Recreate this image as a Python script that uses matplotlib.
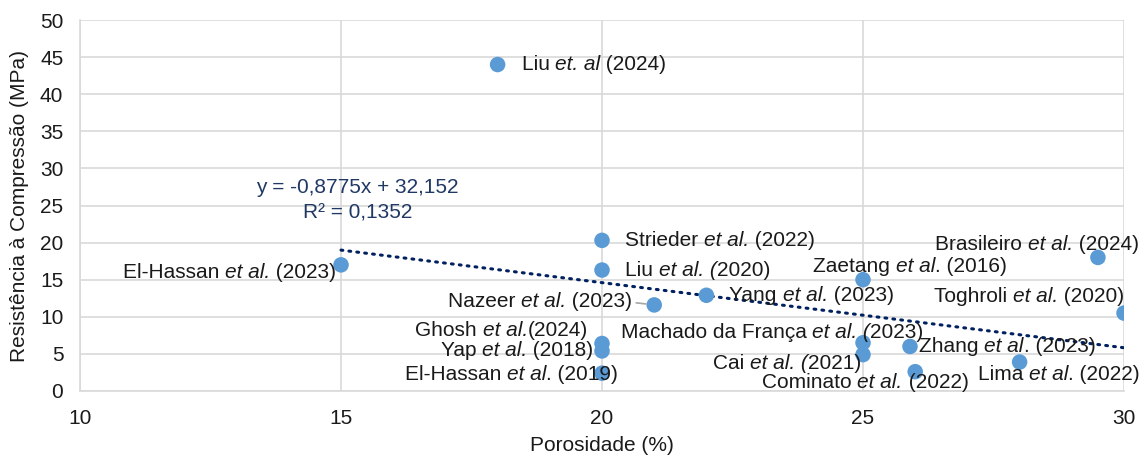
import matplotlib.pyplot as plt
import numpy as np
from matplotlib.offsetbox import TextArea, HPacker, AnnotationBbox

plt.rcParams['font.family'] = ['Liberation Sans', 'DejaVu Sans']

# dados
porosidade = [18.0, 15.0, 20.0, 20.0, 21.0, 22.0, 20.0, 20.0, 20.0,
              25.0, 25.0, 25.0, 25.9, 26.0, 28.0, 29.5, 30.0]
resistencia = [44.0, 17.0, 20.3, 16.3, 11.6, 12.9, 6.4, 5.4, 2.4,
               15.0, 6.5, 4.9, 6.0, 2.6, 3.9, 18.0, 10.5]
# trechos entre * ficam em itálico
autores = [
    'Liu *et. al* (2024)',
    'El-Hassan *et al.* (2023)',
    'Strieder *et al.* (2022)',
    'Liu *et al. (*2020)',
    'Nazeer *et al.* (2023)',
    'Yang *et al.* (2023)',
    'Ghosh *et al.*(2024)',
    'Yap *et al.* (2018)',
    'El-Hassan *et al*. (2019)',
    'Zaetang *et al*. (2016)',
    'Machado da França *et al. (*2023)',
    'Cai *et al. (*2021)',
    'Zhang *et al*. (2023)',
    'Cominato *et al.* (2022)',
    'Lima *et al*. (2022)',
    'Brasileiro *et al.* (2024)',
    'Toghroli *et al.* (2020)',
]
inclinacao = -0.8775
intercepto = 32.152
r2 = 0.1352

# posição dos rótulos (deslocamento em pixels, alinhamento)
offsets = [
    (24, 0, 'left'), (-5, -8, 'right'), (23, 0, 'left'), (23, 0, 'left'),
    (-22, 3, 'right'), (23, 0, 'left'), (-14, 13, 'right'), (-9, 0, 'right'),
    (16, -1, 'right'), (47, 13, 'center'), (-91, 10, 'center'), (-2, -9, 'right'),
    (9, 0, 'left'), (-50, -11, 'center'), (39, -12, 'center'), (-61, 13, 'center'),
    (-95, 17, 'center'),
]
alinh = {'left': (0, 0.5), 'right': (1, 0.5), 'center': (0.5, 0.5)}

fig = plt.figure(figsize=(11.48, 4.55), dpi=100)
ax = fig.add_axes([0.0697, 0.1407, 0.9094, 0.8153])

ax.scatter(porosidade, resistencia, s=125, color='#5B9BD5', zorder=3,
           edgecolors='none')

xs = np.array([min(porosidade), max(porosidade)])
ax.plot(xs, inclinacao * xs + intercepto, color='#002060', lw=2.2,
        linestyle=(0, (0.6, 2.0)), dash_capstyle='round', zorder=2)

for x, y, txt, (dx, dy, ha) in zip(porosidade, resistencia, autores, offsets):
    partes = []
    for i, p in enumerate(txt.split('*')):
        if p == '':
            continue
        partes.append(TextArea(p, textprops=dict(
            fontsize=15, color='#1a1a1a',
            fontstyle='italic' if i % 2 else 'normal')))
    caixa = HPacker(children=partes, align='baseline', pad=0, sep=0)
    ab = AnnotationBbox(caixa, (x, y), xybox=(dx * 0.72, dy * 0.72),
                        boxcoords='offset points', box_alignment=alinh[ha],
                        frameon=False, pad=0, zorder=4)
    ax.add_artist(ab)

# linha de chamada do Nazeer
ax.annotate('', (porosidade[4], resistencia[4]), xytext=(-13, 1.5),
            textcoords='offset points',
            arrowprops=dict(arrowstyle='-', color='#A6A6A6', lw=1.2,
                            shrinkA=0, shrinkB=6))

eq = 'y = {:.4f}x + {:.3f}'.format(inclinacao, intercepto).replace('.', ',')
ax.text(15.31, 27.4, eq, ha='center', va='center', fontsize=15, color='#203864')
ax.text(15.31, 24.0, 'R² = {:.4f}'.format(r2).replace('.', ','), ha='center',
        va='center', fontsize=15, color='#203864')

ax.set_xlim(10, 30)
ax.set_ylim(0, 50)
ax.set_xticks([10, 15, 20, 25, 30])
ax.set_yticks(range(0, 51, 5))
ax.grid(True, color='#D9D9D9', lw=1.2)
ax.set_axisbelow(True)
ax.tick_params(length=0, labelsize=15, colors='#1a1a1a')
ax.tick_params(axis='y', pad=12)
ax.tick_params(axis='x', pad=13)
for s in ['top', 'right']:
    ax.spines[s].set_visible(False)
for s in ['left', 'bottom']:
    ax.spines[s].set_color('#D9D9D9')
    ax.spines[s].set_linewidth(1.2)

ax.set_xlabel('Porosidade (%)', fontsize=15, color='#1a1a1a', labelpad=6)
ax.set_ylabel('Resistência à Compressão (MPa)', fontsize=15, color='#1a1a1a',
              labelpad=8)

fig.savefig('out.png', dpi=100)
